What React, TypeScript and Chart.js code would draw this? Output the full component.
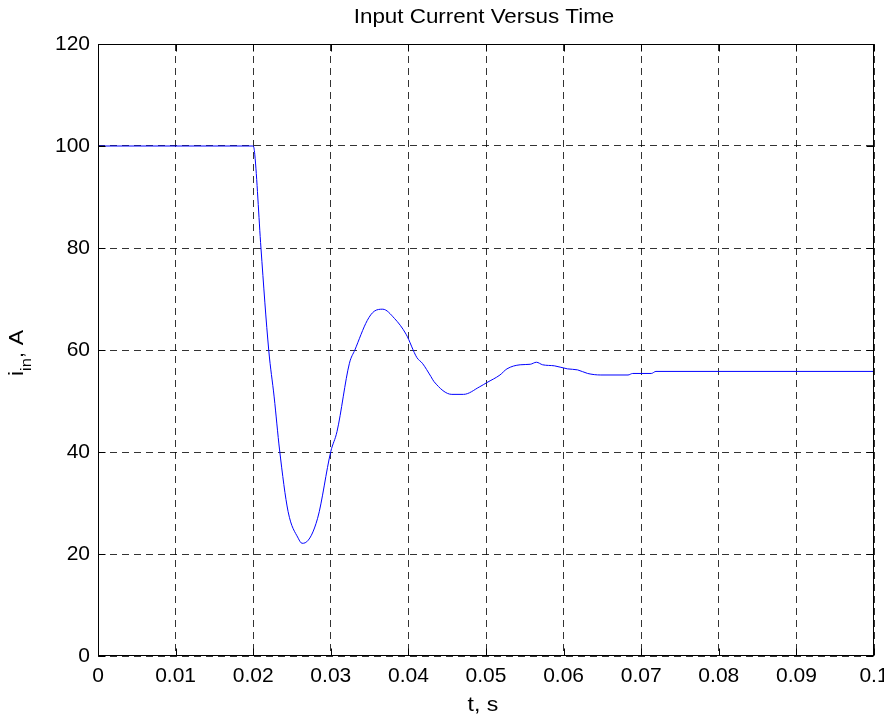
import React, { useEffect, useRef } from "react";
import { Chart, registerables } from "chart.js";

Chart.register(...registerables);

const timeValues = [
  0, 0.02, 0.0202, 0.021, 0.022, 0.0227, 0.0234, 0.0245, 0.0258, 0.0263, 0.0267,
  0.0283, 0.03, 0.0308, 0.0324, 0.0331, 0.0347, 0.0356, 0.0367, 0.0382, 0.0397,
  0.0411, 0.0418, 0.0429, 0.0433, 0.0456, 0.0471, 0.0492, 0.0501, 0.0518, 0.0527,
  0.0544, 0.0557, 0.0565, 0.0573, 0.0588, 0.0605, 0.0618, 0.0631, 0.0648, 0.0683,
  0.0689, 0.0713, 0.0719, 0.1,
];
const currentValues = [
  100, 100, 98.4, 80, 60, 50.8, 40.4, 28.3, 23.1, 22.1, 22.2,
  27.0, 40.1, 44.0, 57.4, 60, 65.8, 67.6, 68.0, 66.2, 63.1,
  58.5, 57.4, 54.8, 53.8, 51.3, 51.3, 52.8, 53.6, 55.1, 56.3,
  57.1, 57.2, 57.6, 57.1, 56.9, 56.3, 56.1, 55.4, 55.1, 55.1,
  55.4, 55.4, 55.8, 55.8,
];
const xTickValues = [0, 0.01, 0.02, 0.03, 0.04, 0.05, 0.06, 0.07, 0.08, 0.09, 0.1];
const yTickValues = [0, 20, 40, 60, 80, 100, 120];
const titleText = "Input Current Versus Time";
const xLabelText = "t, s";
const yLabelMain = "i";
const yLabelSub = "in";
const yLabelRest = ", A";

const FONT = "'Liberation Sans', Arial, Helvetica, sans-serif";

const decorPlugin = {
  id: "matlabDecor",
  afterDraw(chart: any) {
    const ctx = chart.ctx as CanvasRenderingContext2D;
    const a = chart.chartArea;
    const xs = chart.scales.x;
    const ys = chart.scales.y;
    ctx.save();
    ctx.strokeStyle = "#000";
    ctx.lineWidth = 1;
    const L = Math.round(a.left) + 0.5;
    const R = Math.round(a.right) - 0.5;
    const T = Math.round(a.top) + 0.5;
    const B = Math.round(a.bottom) - 0.5;
    ctx.strokeRect(L, T, R - L, B - T);
    const tl = 7;
    ctx.beginPath();
    xTickValues.forEach((v) => {
      const px = Math.round(xs.getPixelForValue(v)) + 0.5;
      ctx.moveTo(px, B);
      ctx.lineTo(px, B - tl);
      ctx.moveTo(px, T);
      ctx.lineTo(px, T + tl);
    });
    yTickValues.forEach((v) => {
      const py = Math.round(ys.getPixelForValue(v)) + 0.5;
      ctx.moveTo(L, py);
      ctx.lineTo(L + tl, py);
      ctx.moveTo(R, py);
      ctx.lineTo(R - tl, py);
    });
    ctx.stroke();

    const cx = (a.left + a.right) / 2;
    ctx.fillStyle = "#000";
    ctx.save();
    ctx.font = `20px ${FONT}`;
    ctx.textAlign = "center";
    ctx.textBaseline = "alphabetic";
    ctx.translate(cx - 2, 23);
    ctx.scale(1.12, 1);
    ctx.fillText(titleText, 0, 0);
    ctx.restore();

    ctx.save();
    ctx.font = `21px ${FONT}`;
    ctx.textAlign = "center";
    ctx.textBaseline = "alphabetic";
    ctx.translate(cx - 3, 711);
    ctx.scale(1.1, 1);
    ctx.fillText(xLabelText, 0, 0);
    ctx.restore();

    ctx.save();
    ctx.translate(23, 353);
    ctx.rotate(-Math.PI / 2);
    ctx.scale(1.1, 1);
    ctx.textAlign = "left";
    ctx.textBaseline = "alphabetic";
    const mainFont = `21px ${FONT}`;
    const subFont = `15px ${FONT}`;
    ctx.font = mainFont;
    const w1 = ctx.measureText(yLabelMain).width;
    const w3 = ctx.measureText(yLabelRest).width;
    ctx.font = subFont;
    const w2 = ctx.measureText(yLabelSub).width;
    const W = w1 + w2 + w3;
    let x0 = -W / 2;
    ctx.font = mainFont;
    ctx.fillText(yLabelMain, x0, 0);
    x0 += w1;
    ctx.font = subFont;
    ctx.fillText(yLabelSub, x0, 8);
    x0 += w2;
    ctx.font = mainFont;
    ctx.fillText(yLabelRest, x0, 0);
    ctx.restore();

    ctx.restore();
  },
};

export default function App() {
  const ref = useRef<HTMLCanvasElement | null>(null);
  useEffect(() => {
    if (!ref.current) return;
    const data = timeValues.map((t, i) => ({ x: t, y: currentValues[i] }));
    const chart = new Chart(ref.current, {
      type: "line",
      data: {
        datasets: [
          {
            data,
            borderColor: "#0000ff",
            borderWidth: 1,
            pointRadius: 0,
            fill: false,
            cubicInterpolationMode: "monotone",
          },
        ],
      },
      options: {
        animation: false,
        responsive: true,
        maintainAspectRatio: false,
        layout: { padding: { top: 44, right: 10, left: 0, bottom: 0 } },
        plugins: {
          legend: { display: false },
          title: { display: false },
          tooltip: { enabled: false },
        },
        scales: {
          x: {
            type: "linear",
            min: 0,
            max: 0.1,
            afterBuildTicks: (scale: any) => {
              scale.ticks = xTickValues.map((v) => ({ value: v }));
            },
            afterFit: (scale: any) => {
              scale.height = 60;
              scale.paddingLeft = 0;
              scale.paddingRight = 0;
            },
            ticks: {
              color: "#000",
              font: { family: FONT, size: 21 },
              padding: 8,
              maxRotation: 0,
              autoSkip: false,
              callback: (v: any) => String(Number(Number(v).toFixed(2))),
            },
            grid: {
              color: "rgba(0,0,0,0.8)",
              lineWidth: 1,
              drawTicks: false,
              tickLength: 0,
            },
            border: { display: false, dash: [7, 5] },
          },
          y: {
            type: "linear",
            min: 0,
            max: 120,
            afterBuildTicks: (scale: any) => {
              scale.ticks = yTickValues.map((v) => ({ value: v }));
            },
            afterFit: (scale: any) => {
              scale.width = 98;
              scale.paddingTop = 0;
              scale.paddingBottom = 0;
            },
            ticks: {
              color: "#000",
              font: { family: FONT, size: 21 },
              padding: 8,
              autoSkip: false,
              callback: (v: any) => String(v),
            },
            grid: {
              color: "rgba(0,0,0,0.8)",
              lineWidth: 1,
              drawTicks: false,
              tickLength: 0,
            },
            border: { display: false, dash: [7, 5] },
          },
        },
      },
      plugins: [decorPlugin],
    });
    return () => chart.destroy();
  }, []);
  return (
    <div style={{ position: "absolute", left: 0, top: 0, width: 884, height: 716, background: "#fff" }}>
      <canvas ref={ref} />
    </div>
  );
}
